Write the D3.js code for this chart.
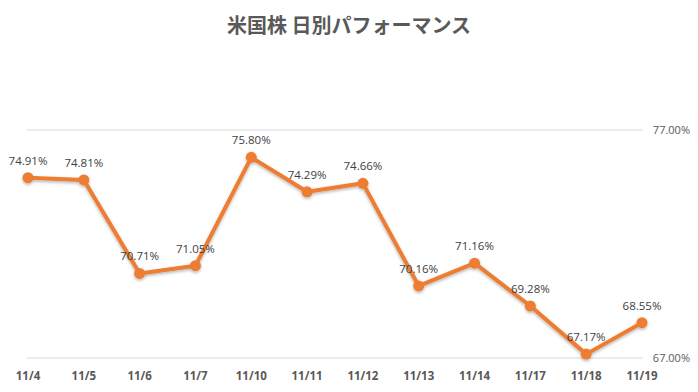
<!DOCTYPE html>
<html>
<head>
<meta charset="utf-8">
<script src="https://cdn.jsdelivr.net/npm/d3@7"></script>
<style>
  body { margin: 0; background: #fff; }
  svg { display: block; font-family: "Open Sans", "Noto Sans", sans-serif; }
</style>
</head>
<body>
<svg id="chart" width="698" height="392"></svg>
<script>
const title = "米国株 日別パフォーマンス";
const dates = ["11/4", "11/5", "11/6", "11/7", "11/10", "11/11", "11/12", "11/13", "11/14", "11/17", "11/18", "11/19"];
const perf = [74.91, 74.81, 70.71, 71.05, 75.80, 74.29, 74.66, 70.16, 71.16, 69.28, 67.17, 68.55];
const yTicks = [67, 77];

const svg = d3.select("#chart");
const width = 698, height = 392;
const margin = { top: 130, right: 56, bottom: 34, left: 27 };

const x = d3.scalePoint()
  .domain(dates)
  .range([margin.left + 1, width - margin.right]);

const y = d3.scaleLinear()
  .domain([67, 77])
  .range([height - margin.bottom, margin.top]);

// drop shadow for the line
const defs = svg.append("defs");
const f = defs.append("filter").attr("id", "shadow")
  .attr("x", "-10%").attr("y", "-10%").attr("width", "120%").attr("height", "130%");
f.append("feDropShadow")
  .attr("dx", 0).attr("dy", 1.5).attr("stdDeviation", 1.5)
  .attr("flood-color", "#000").attr("flood-opacity", 0.3);

svg.append("text")
  .attr("x", width / 2)
  .attr("y", 33)
  .attr("text-anchor", "middle")
  .attr("font-family", "'Noto Sans CJK JP', sans-serif")
  .attr("font-size", 20)
  .attr("font-weight", "bold")
  .attr("fill", "#595959")
  .text(title);

// gridlines + right axis labels
svg.append("g")
  .selectAll("line")
  .data(yTicks)
  .join("line")
  .attr("x1", margin.left)
  .attr("x2", width - margin.right + 1)
  .attr("y1", d => y(d))
  .attr("y2", d => y(d))
  .attr("stroke", "#d9d9d9")
  .attr("stroke-width", 1);

svg.append("g")
  .selectAll("text")
  .data(yTicks)
  .join("text")
  .attr("x", width - 8)
  .attr("y", d => y(d) + 4)
  .attr("text-anchor", "end")
  .attr("font-size", 11)
  .attr("fill", "#595959")
  .text(d => d.toFixed(2) + "%");

// category labels
svg.append("g")
  .selectAll("text")
  .data(dates)
  .join("text")
  .attr("x", d => x(d))
  .attr("y", 380)
  .attr("text-anchor", "middle")
  .attr("font-size", 11.5)
  .attr("font-weight", "bold")
  .attr("fill", "#595959")
  .text(d => d);

const pts = dates.map((d, i) => ({ date: d, v: perf[i] }));

const g = svg.append("g").attr("filter", "url(#shadow)");
g.append("path")
  .datum(pts)
  .attr("fill", "none")
  .attr("stroke", "#ED7D31")
  .attr("stroke-width", 4)
  .attr("stroke-linejoin", "round")
  .attr("d", d3.line().x(d => x(d.date)).y(d => y(d.v)));

g.selectAll("circle")
  .data(pts)
  .join("circle")
  .attr("cx", d => x(d.date))
  .attr("cy", d => y(d.v))
  .attr("r", 5.5)
  .attr("fill", "#ED7D31");

svg.append("g")
  .selectAll("text")
  .data(pts)
  .join("text")
  .attr("x", d => x(d.date))
  .attr("y", d => y(d.v) - 13)
  .attr("text-anchor", "middle")
  .attr("font-size", 11.5)
  .attr("fill", "#404040")
  .text(d => d.v.toFixed(2) + "%");
</script>
</body>
</html>
